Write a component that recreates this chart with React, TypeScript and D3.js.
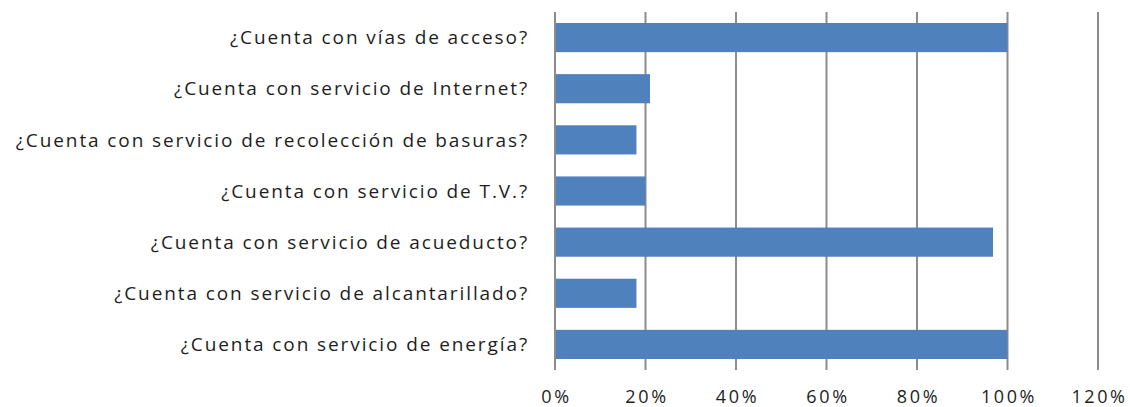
import React, { useEffect, useRef } from "react";
import * as d3 from "d3";

const categories = [
  "¿Cuenta con vías de acceso?",
  "¿Cuenta con servicio de Internet?",
  "¿Cuenta con servicio de recolección de basuras?",
  "¿Cuenta con servicio de T.V.?",
  "¿Cuenta con servicio de acueducto?",
  "¿Cuenta con servicio de alcantarillado?",
  "¿Cuenta con servicio de energía?",
];
const values = [1.0, 0.21, 0.18, 0.2, 0.968, 0.18, 1.0];
const ticks = [0, 0.2, 0.4, 0.6, 0.8, 1.0, 1.2];

export default function App() {
  const svgRef = useRef<SVGSVGElement>(null);

  useEffect(() => {
    const svg = d3.select(svgRef.current);
    svg.selectAll("*").remove();

    const margin = { top: 12, left: 555, right: 32, bottom: 37 };
    const width = 1130;
    const height = 407;
    const innerW = width - margin.left - margin.right;
    const innerH = height - margin.top - margin.bottom;

    const x = d3.scaleLinear().domain([0, 1.2]).range([0, innerW]);
    const y = d3
      .scaleBand()
      .domain(categories)
      .range([0, innerH])
      .paddingInner(0.43)
      .paddingOuter(0.215);

    const g = svg.append("g").attr("transform", `translate(${margin.left},${margin.top})`);

    // vertical gridlines
    g.selectAll("line.grid")
      .data(ticks)
      .join("line")
      .attr("class", "grid")
      .attr("x1", (d) => x(d))
      .attr("x2", (d) => x(d))
      .attr("y1", 0)
      .attr("y2", innerH)
      .attr("stroke", "#8c8c8c")
      .attr("stroke-width", 2);

    // bars
    g.selectAll("rect.bar")
      .data(values)
      .join("rect")
      .attr("class", "bar")
      .attr("x", x(0) + 1)
      .attr("y", (_, i) => y(categories[i])!)
      .attr("width", (d) => x(d) - x(0) - 1)
      .attr("height", y.bandwidth())
      .attr("fill", "#4f81bd");

    // category labels
    g.selectAll("text.cat")
      .data(categories)
      .join("text")
      .attr("class", "cat")
      .attr("x", -26)
      .attr("y", (d) => y(d)! + y.bandwidth() / 2)
      .attr("dy", "0.35em")
      .attr("text-anchor", "end")
      .style("font-family", "'Open Sans', sans-serif")
      .style("font-size", "19px")
      .style("letter-spacing", "1.9px")
      .attr("fill", "#1e1e1e")
      .text((d) => d);

    // x tick labels
    g.selectAll("text.tick")
      .data(ticks)
      .join("text")
      .attr("class", "tick")
      .attr("x", (d) => x(d) + 1.5)
      .attr("y", innerH + 33)
      .attr("text-anchor", "middle")
      .style("font-family", "'Open Sans', sans-serif")
      .style("font-size", "18px")
      .style("letter-spacing", "2.6px")
      .attr("fill", "#1e1e1e")
      .text((d) => d3.format(".0%")(d));
  }, []);

  return <svg ref={svgRef} width={1130} height={407} style={{ position: "absolute", left: 0, top: 0 }} />;
}
